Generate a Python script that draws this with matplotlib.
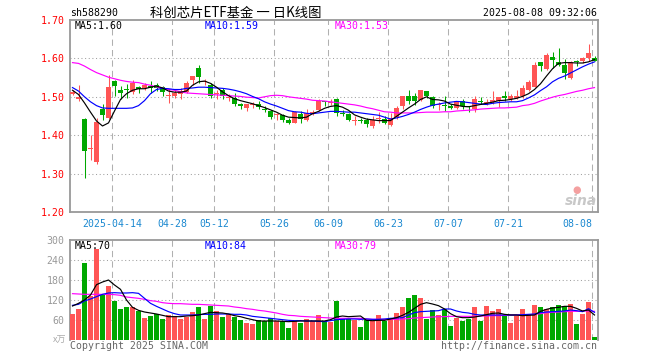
import numpy as np
import matplotlib
matplotlib.use("Agg")
import matplotlib.pyplot as plt

# daily K-line data, 2025-04-02 .. 2025-08-08 (88 sessions)
opens = [1.508, 1.495, 1.443, 1.365, 1.331, 1.469, 1.444, 1.541, 1.517, 1.521,
         1.512, 1.526, 1.523, 1.528, 1.530, 1.526, 1.503, 1.502, 1.507, 1.512,
         1.543, 1.574, 1.539, 1.530, 1.508, 1.519, 1.497, 1.497, 1.482, 1.471,
         1.479, 1.482, 1.468, 1.464, 1.452, 1.452, 1.440, 1.433, 1.454, 1.440,
         1.459, 1.465, 1.489, 1.485, 1.494, 1.457, 1.456, 1.437, 1.439, 1.439,
         1.423, 1.441, 1.442, 1.427, 1.447, 1.477, 1.503, 1.503, 1.491, 1.516,
         1.500, 1.479, 1.478, 1.477, 1.471, 1.489, 1.474, 1.467, 1.490, 1.485,
         1.486, 1.489, 1.502, 1.495, 1.496, 1.502, 1.517, 1.526, 1.590, 1.573,
         1.603, 1.590, 1.583, 1.550, 1.592, 1.592, 1.602, 1.602]
highs = [1.518, 1.530, 1.445, 1.400, 1.445, 1.482, 1.558, 1.543, 1.528, 1.534,
         1.545, 1.528, 1.536, 1.541, 1.535, 1.528, 1.520, 1.519, 1.523, 1.541,
         1.554, 1.582, 1.547, 1.537, 1.519, 1.523, 1.506, 1.510, 1.484, 1.480,
         1.486, 1.489, 1.475, 1.466, 1.458, 1.455, 1.445, 1.462, 1.462, 1.468,
         1.465, 1.493, 1.490, 1.493, 1.497, 1.466, 1.458, 1.449, 1.445, 1.445,
         1.449, 1.460, 1.451, 1.458, 1.477, 1.503, 1.519, 1.510, 1.519, 1.516,
         1.503, 1.486, 1.502, 1.480, 1.490, 1.493, 1.477, 1.502, 1.499, 1.493,
         1.515, 1.499, 1.515, 1.506, 1.519, 1.532, 1.543, 1.591, 1.590, 1.615,
         1.617, 1.626, 1.599, 1.593, 1.595, 1.604, 1.637, 1.605]
lows = [1.505, 1.490, 1.289, 1.336, 1.326, 1.440, 1.441, 1.502, 1.493, 1.497,
        1.506, 1.510, 1.517, 1.510, 1.516, 1.502, 1.484, 1.497, 1.493, 1.510,
        1.532, 1.537, 1.532, 1.497, 1.493, 1.495, 1.489, 1.476, 1.467, 1.463,
        1.470, 1.467, 1.460, 1.442, 1.440, 1.434, 1.429, 1.432, 1.433, 1.436,
        1.453, 1.462, 1.475, 1.479, 1.449, 1.449, 1.438, 1.427, 1.431, 1.421,
        1.420, 1.432, 1.430, 1.423, 1.442, 1.468, 1.482, 1.479, 1.488, 1.497,
        1.471, 1.465, 1.462, 1.467, 1.467, 1.467, 1.460, 1.460, 1.480, 1.478,
        1.480, 1.474, 1.489, 1.489, 1.493, 1.497, 1.515, 1.526, 1.567, 1.570,
        1.576, 1.580, 1.547, 1.547, 1.580, 1.589, 1.594, 1.592]
closes = [1.513, 1.500, 1.358, 1.367, 1.434, 1.453, 1.526, 1.528, 1.510, 1.519,
          1.535, 1.521, 1.532, 1.524, 1.523, 1.513, 1.505, 1.510, 1.515, 1.536,
          1.554, 1.552, 1.541, 1.503, 1.510, 1.502, 1.499, 1.480, 1.476, 1.480,
          1.481, 1.473, 1.466, 1.447, 1.454, 1.439, 1.433, 1.460, 1.442, 1.457,
          1.461, 1.490, 1.487, 1.487, 1.459, 1.456, 1.440, 1.438, 1.437, 1.428,
          1.440, 1.443, 1.433, 1.445, 1.471, 1.503, 1.488, 1.488, 1.517, 1.503,
          1.477, 1.480, 1.476, 1.470, 1.489, 1.476, 1.473, 1.493, 1.486, 1.487,
          1.491, 1.499, 1.497, 1.502, 1.503, 1.522, 1.539, 1.584, 1.580, 1.610,
          1.595, 1.584, 1.561, 1.591, 1.590, 1.602, 1.613, 1.593]
volumes = [78, 93, 231, 132, 273, 135, 162, 118, 93, 99,
           99, 87, 66, 72, 78, 63, 75, 72, 63, 69,
           84, 99, 63, 102, 87, 69, 78, 69, 60, 51,
           48, 60, 57, 65, 57, 57, 36, 57, 51, 63,
           57, 75, 57, 54, 117, 63, 63, 60, 39, 60,
           57, 75, 57, 66, 81, 99, 126, 135, 126, 63,
           90, 75, 93, 42, 66, 57, 63, 99, 57, 102,
           87, 93, 72, 51, 72, 93, 75, 105, 99, 93,
           99, 105, 102, 108, 48, 78, 114, 9]

ma5 = [1.517, 1.506, 1.484, 1.460, 1.437, 1.424, 1.432, 1.463, 1.493, 1.508,
       1.517, 1.521, 1.521, 1.525, 1.528, 1.523, 1.515, 1.512, 1.512, 1.515,
       1.530, 1.539, 1.541, 1.535, 1.525, 1.513, 1.503, 1.495, 1.490, 1.486,
       1.482, 1.477, 1.472, 1.466, 1.460, 1.452, 1.447, 1.446, 1.445, 1.447,
       1.456, 1.462, 1.470, 1.475, 1.477, 1.473, 1.465, 1.453, 1.447, 1.442,
       1.440, 1.438, 1.438, 1.438, 1.449, 1.460, 1.471, 1.481, 1.493, 1.500,
       1.493, 1.492, 1.489, 1.481, 1.478, 1.475, 1.474, 1.477, 1.480, 1.483,
       1.486, 1.490, 1.491, 1.493, 1.496, 1.501, 1.508, 1.519, 1.534, 1.554,
       1.573, 1.587, 1.589, 1.589, 1.588, 1.588, 1.591, 1.597]
ma10 = [1.524, 1.515, 1.500, 1.487, 1.477, 1.471, 1.470, 1.470, 1.470, 1.470,
        1.471, 1.477, 1.490, 1.508, 1.519, 1.522, 1.521, 1.519, 1.519, 1.522,
        1.523, 1.525, 1.525, 1.524, 1.523, 1.522, 1.520, 1.517, 1.513, 1.508,
        1.501, 1.495, 1.487, 1.481, 1.476, 1.470, 1.464, 1.461, 1.460, 1.457,
        1.456, 1.458, 1.460, 1.462, 1.462, 1.461, 1.460, 1.460, 1.458, 1.456,
        1.454, 1.452, 1.447, 1.442, 1.445, 1.449, 1.454, 1.460, 1.467, 1.473,
        1.478, 1.481, 1.484, 1.486, 1.488, 1.487, 1.485, 1.483, 1.481, 1.480,
        1.483, 1.485, 1.486, 1.487, 1.487, 1.490, 1.497, 1.505, 1.516, 1.526,
        1.539, 1.548, 1.554, 1.562, 1.570, 1.578, 1.585, 1.591]
ma30 = [1.589, 1.587, 1.580, 1.571, 1.563, 1.557, 1.551, 1.547, 1.543, 1.540,
        1.538, 1.537, 1.533, 1.530, 1.526, 1.523, 1.519, 1.517, 1.513, 1.510,
        1.509, 1.508, 1.507, 1.506, 1.505, 1.504, 1.503, 1.502, 1.501, 1.499,
        1.498, 1.497, 1.500, 1.503, 1.504, 1.503, 1.500, 1.498, 1.496, 1.494,
        1.491, 1.490, 1.489, 1.487, 1.485, 1.483, 1.481, 1.479, 1.476, 1.472,
        1.469, 1.465, 1.461, 1.460, 1.458, 1.458, 1.458, 1.458, 1.459, 1.460,
        1.460, 1.460, 1.461, 1.461, 1.463, 1.464, 1.465, 1.466, 1.468, 1.469,
        1.470, 1.471, 1.471, 1.472, 1.473, 1.477, 1.479, 1.483, 1.489, 1.494,
        1.499, 1.503, 1.506, 1.510, 1.514, 1.517, 1.521, 1.524]

vma5 = [102, 110, 120, 135, 166, 174, 180, 165, 152, 120,
        98, 89, 84, 81, 78, 74, 70, 70, 70, 72,
        73, 75, 79, 83, 82, 81, 78, 73, 70, 65,
        61, 57, 57, 57, 57, 56, 55, 56, 57, 57,
        57, 57, 57, 61, 69, 72, 70, 71, 72, 59,
        58, 59, 59, 63, 67, 74, 83, 95, 107, 112,
        108, 103, 93, 79, 70, 67, 67, 69, 72, 76,
        80, 81, 77, 75, 75, 73, 74, 75, 86, 92,
        96, 98, 101, 101, 95, 87, 90, 75]
vma10 = [104, 107, 117, 123, 130, 137, 141, 142, 141, 141,
         142, 140, 125, 110, 101, 93, 85, 79, 75, 75,
         75, 76, 77, 77, 78, 78, 78, 77, 77, 75,
         71, 69, 67, 65, 63, 61, 59, 58, 58, 57,
         57, 56, 55, 58, 61, 62, 63, 63, 62, 63,
         62, 62, 63, 65, 66, 67, 75, 82, 85, 86,
         87, 88, 93, 93, 87, 83, 81, 77, 75, 75,
         75, 75, 75, 75, 75, 76, 77, 78, 82, 84,
         85, 86, 87, 90, 88, 85, 94, 83]
vma30 = [139, 138, 137, 137, 137, 137, 137, 136, 134, 129,
         127, 125, 122, 118, 116, 112, 110, 109, 109, 108,
         107, 107, 106, 105, 104, 103, 102, 99, 97, 94,
         92, 89, 87, 84, 81, 77, 74, 73, 71, 70,
         69, 68, 67, 66, 65, 65, 65, 65, 65, 63,
         62, 62, 62, 62, 62, 63, 64, 66, 67, 68,
         69, 70, 70, 71, 71, 71, 71, 71, 72, 72,
         73, 73, 74, 75, 75, 75, 76, 77, 79, 82,
         83, 84, 85, 86, 86, 87, 87, 86]

tick_idx = [7, 17, 24, 34, 43, 53, 63, 73, 87]
tick_labels = ["2025-04-14", "04-28", "05-12", "05-26", "06-09",
               "06-23", "07-07", "07-21", "08-08"]
price_ticks = [1.20, 1.30, 1.40, 1.50, 1.60, 1.70]
vol_ticks = [60, 120, 180, 240, 300]

RED = "#ff5555"
GREEN = "#00a800"
MONO = ["DejaVu Sans Mono", "Noto Sans CJK SC"]
FS = 7.1

plt.rcParams["font.family"] = MONO

W, H = 660, 360
fig = plt.figure(figsize=(W / 100, H / 100), dpi=100)
fig.patch.set_facecolor("white")


def box(x0, y0, x1, y1):
    return [x0 / W, 1 - y1 / H, (x1 - x0) / W, (y1 - y0) / H]


def px(x, y):
    return x / W, 1 - y / H


ax = fig.add_axes(box(70, 20, 598, 212))
axv = fig.add_axes(box(70, 240, 598, 340))

x = np.arange(len(closes))
o = np.array(opens)
c = np.array(closes)
up = c >= o
colors = np.where(up, RED, GREEN)
xlim = (-0.417, len(closes) - 0.417)
grid_x = np.array(tick_idx) - 0.42

# candles
ax.vlines(x, lows, highs, colors=colors, lw=0.75, zorder=3)
body_lo = np.minimum(o, c)
body_h = np.maximum(np.abs(c - o), 0.0026)
ax.bar(x, body_h, bottom=body_lo, width=0.8, color=colors, lw=0, zorder=4)
ax.plot(x, ma30, color="#ff00ff", lw=0.85, zorder=5)
ax.plot(x, ma10, color="#0000ff", lw=0.85, zorder=6)
ax.plot(x, ma5, color="black", lw=0.85, zorder=7)

ax.set_xlim(*xlim)
ax.set_ylim(1.20, 1.70)
ax.set_yticks(price_ticks)
ax.set_yticklabels([f"{t:.2f}" for t in price_ticks], color="red",
                   fontsize=FS)
ax.set_xticks(grid_x)
ax.set_xticklabels(tick_labels, color="#1a88d0", fontsize=FS)
ax.get_xticklabels()[-1].set_ha("right")
ax.tick_params(length=0, pad=4)
ax.tick_params(axis="x", pad=5)
for t in price_ticks[1:-1]:
    ax.axhline(t, color="#a0a0a0", lw=0.75, ls=(0, (1, 2.5)), zorder=1)
for gx in grid_x:
    ax.axvline(gx, color="#b0b0b0", lw=0.75, ls=(0, (6, 4)), zorder=1)

# volume panel
axv.bar(x, volumes, width=0.8, color=colors, lw=0, zorder=3)
axv.plot(x, vma30, color="#ff00ff", lw=0.85, zorder=5)
axv.plot(x, vma10, color="#0000ff", lw=0.85, zorder=6)
axv.plot(x, vma5, color="black", lw=0.85, zorder=7)
axv.set_xlim(*xlim)
axv.set_ylim(0, 300)
axv.set_yticks(vol_ticks)
axv.set_yticklabels([str(v) for v in vol_ticks], color="#999999", fontsize=FS)
axv.set_xticks([])
axv.tick_params(length=0, pad=4)
for t in vol_ticks[:-1]:
    axv.axhline(t, color="#a0a0a0", lw=0.75, ls=(0, (1, 2.5)), zorder=1)
for gx in grid_x:
    axv.axvline(gx, color="#b0b0b0", lw=0.75, ls=(0, (6, 4)), zorder=1)

for a in (ax, axv):
    for s in a.spines.values():
        s.set_color("#999999")
        s.set_linewidth(1.3)
axv.spines["bottom"].set_visible(False)

# header texts
fig.text(*px(70, 13), "sh588290", fontsize=FS, va="center", ha="left")
fig.text(*px(150, 13), "科创芯片ETF基金 一 日K线图", fontsize=9.6,
         va="center", ha="left", family=["Noto Sans CJK SC", "DejaVu Sans"])
fig.text(*px(597, 13), "2025-08-08 09:32:06", fontsize=FS, va="center",
         ha="right")

fig.text(*px(75, 26), f"MA5:{ma5[-1]:.2f}", fontsize=FS, va="center")
fig.text(*px(205, 26), f"MA10:{ma10[-1]:.2f}", fontsize=FS, va="center",
         color="#0000ff")
fig.text(*px(335, 26), "MA30:1.53", fontsize=FS, va="center",
         color="#ff00ff")
fig.text(*px(75, 246), "MA5:70", fontsize=FS, va="center")
fig.text(*px(205, 246), "MA10:84", fontsize=FS, va="center", color="#0000ff")
fig.text(*px(335, 246), "MA30:79", fontsize=FS, va="center", color="#ff00ff")

fig.text(*px(66, 340), "x万", fontsize=6.5, va="center", ha="right",
         color="#aaaaaa", family=["Noto Sans CJK SC", "DejaVu Sans"])
fig.text(*px(70, 346), "Copyright 2025 SINA.COM", fontsize=FS, va="center",
         color="#666666")
fig.text(*px(597, 346), "http://finance.sina.com.cn", fontsize=FS,
         va="center", ha="right", color="#666666")

# sina watermark
fig.text(*px(581, 201), "sina", fontsize=10, fontweight="bold",
         style="italic", va="center", ha="center", color="#c8c8c8",
         family="DejaVu Sans")
fig.text(*px(577, 190), "●", fontsize=7, va="center", ha="center",
         color="#f4a0a0", family="DejaVu Sans")

fig.savefig("out.png", dpi=100)
